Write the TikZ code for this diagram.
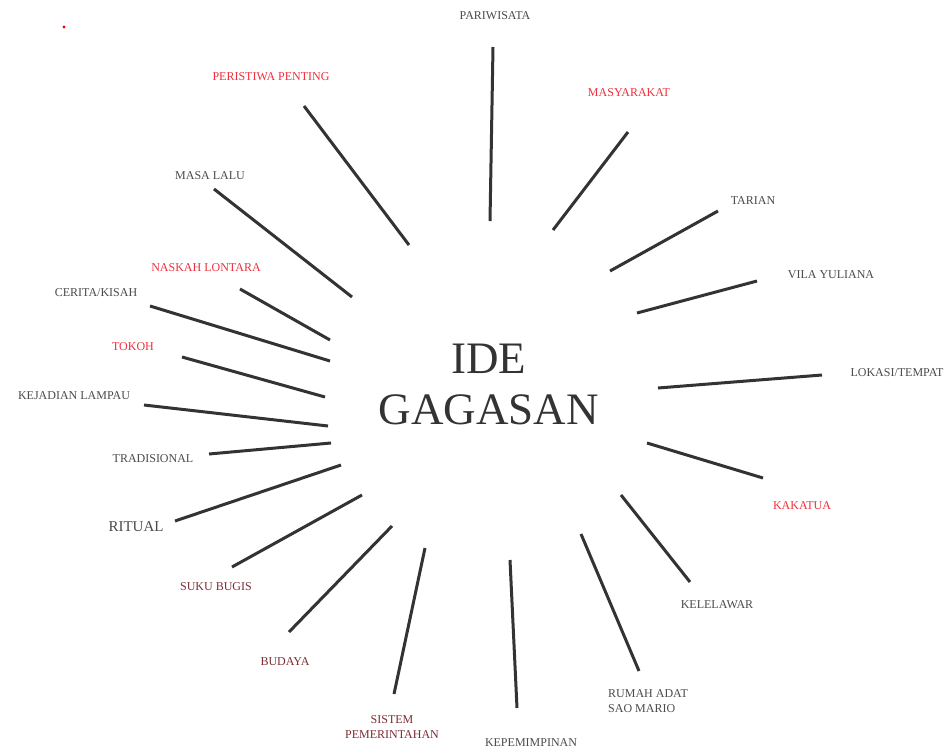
\documentclass[tikz,border=0pt]{standalone}
\usepackage{fontspec}
\setmainfont{Liberation Serif}
\definecolor{txtgray}{HTML}{4A4A4A}
\definecolor{txtred}{HTML}{EE2F3C}
\definecolor{txtdark}{HTML}{7B2D35}
\definecolor{linec}{HTML}{333333}
\tikzset{
  lbl/.style={inner sep=0pt, font=\fontsize{12}{14}\selectfont, text=txtgray, align=left},
  lblred/.style={lbl, text=txtred},
  lbldark/.style={lbl, text=txtdark, align=center},
  spoke/.style={draw=linec, line width=3pt},
}
\begin{document}
\begin{tikzpicture}[x=1pt,y=-1pt]
\useasboundingbox (0,0) rectangle (948,750);
\fill[red] (64,27) circle (1.6);
% centre
\node[inner sep=0pt, text=linec, font=\fontsize{45}{51}\selectfont, align=center] (c) at (489,384) {IDE\\GAGASAN};
% labels
\node[lbl] (l1) at (495,16) {PARIWISATA};
\node[lblred] (l2) at (629,93) {MASYARAKAT};
\node[lblred] (l3) at (271,77) {PERISTIWA PENTING};
\node[lbl] (l4) at (210,176) {MASA LALU};
\node[lbl] (l5) at (753,201) {TARIAN};
\node[lbl] (l6) at (831,275) {VILA YULIANA};
\node[lbl] (l7) at (897,373) {LOKASI/TEMPAT};
\node[lblred] (l8) at (206,268) {NASKAH LONTARA};
\node[lbl] (l9) at (96,293) {CERITA/KISAH};
\node[lblred] (l10) at (133,347) {TOKOH};
\node[lbl] (l11) at (74,396) {KEJADIAN LAMPAU};
\node[lbl] (l12) at (153,459) {TRADISIONAL};
\node[lbl, font=\fontsize{15}{17}\selectfont] (l13) at (136,527) {RITUAL};
\node[lbldark] (l14) at (216,587) {SUKU BUGIS};
\node[lbldark] (l15) at (285,662) {BUDAYA};
\node[lbldark, font=\fontsize{12}{14.5}\selectfont] (l16) at (392,727) {SISTEM\\PEMERINTAHAN};
\node[lbl] (l17) at (531,743) {KEPEMIMPINAN};
\node[lbl, anchor=west, font=\fontsize{12}{14.5}\selectfont] (l18) at (608,701) {RUMAH ADAT\\SAO MARIO};
\node[lbl] (l19) at (717,605) {KELELAWAR};
\node[lblred] (l20) at (802,506) {KAKATUA};
% spoke ends
\coordinate (a1) at (493,47);  \coordinate (b1) at (490,221);
\coordinate (a2) at (628,132); \coordinate (b2) at (553,230);
\coordinate (a3) at (304,106); \coordinate (b3) at (409,245);
\coordinate (a4) at (214,189); \coordinate (b4) at (352,297);
\coordinate (a5) at (718,211); \coordinate (b5) at (610,271);
\coordinate (a6) at (757,281); \coordinate (b6) at (637,313);
\coordinate (a7) at (822,375); \coordinate (b7) at (658,388);
\coordinate (a8) at (240,289); \coordinate (b8) at (330,340);
\coordinate (a9) at (150,306); \coordinate (b9) at (330,361);
\coordinate (a10) at (182,357); \coordinate (b10) at (325,397);
\coordinate (a11) at (144,405); \coordinate (b11) at (328,426);
\coordinate (a12) at (209,454); \coordinate (b12) at (331,443);
\coordinate (a13) at (175,521); \coordinate (b13) at (341,465);
\coordinate (a14) at (232,567); \coordinate (b14) at (362,495);
\coordinate (a15) at (289,632); \coordinate (b15) at (392,526);
\coordinate (a16) at (394,694); \coordinate (b16) at (425,548);
\coordinate (a17) at (517,708); \coordinate (b17) at (510,560);
\coordinate (a18) at (639,671); \coordinate (b18) at (581,534);
\coordinate (a19) at (690,582); \coordinate (b19) at (621,495);
\coordinate (a20) at (763,478); \coordinate (b20) at (647,443);
\foreach \i in {1,...,20} { \draw[spoke] (a\i) -- (b\i); }
\end{tikzpicture}
\end{document}
